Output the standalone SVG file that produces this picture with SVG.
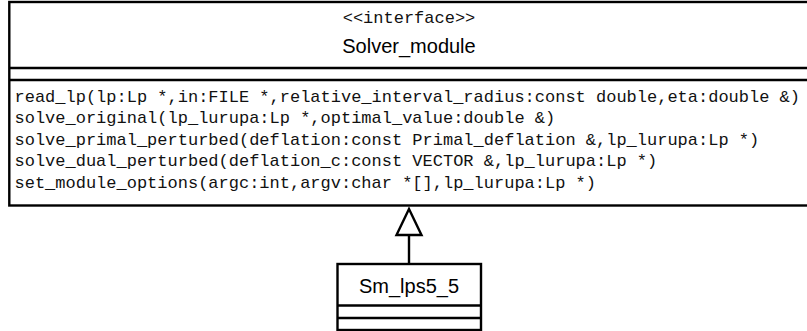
<svg xmlns="http://www.w3.org/2000/svg" width="807" height="331" viewBox="0 0 807 331">
<style>
.box{fill:#fff;stroke:#000;stroke-width:2.4}
.ln{stroke:#000;stroke-width:2.4;fill:none}
.mono{font-family:"Liberation Mono","Courier New",monospace;fill:#111;font-size:17px}
.sans{font-family:"Liberation Sans",Arial,sans-serif;fill:#000;font-size:20px}
</style>
<rect width="807" height="331" fill="#fff"/>
<g id="connectors">
<line class="ln" x1="409" y1="235" x2="409" y2="264"/>
<polygon points="409,209 396.5,235 421.5,235" fill="#fff" stroke="#000" stroke-width="2.4"/>
</g>
<g id="Solver_module">
<rect class="box" x="9.3" y="2" width="801" height="203.5"/>
<line class="ln" x1="9.3" y1="68" x2="810" y2="68"/>
<line class="ln" x1="9.3" y1="80" x2="810" y2="80"/>
<text class="mono" x="409" y="22.5" text-anchor="middle">&lt;&lt;interface&gt;&gt;</text>
<text class="sans" x="409" y="53" text-anchor="middle">Solver_module</text>
<text class="mono" x="14.5" y="101.5">read_lp(lp:Lp *,in:FILE *,relative_interval_radius:const double,eta:double &amp;)</text>
<text class="mono" x="14.5" y="123">solve_original(lp_lurupa:Lp *,optimal_value:double &amp;)</text>
<text class="mono" x="14.5" y="144.7">solve_primal_perturbed(deflation:const Primal_deflation &amp;,lp_lurupa:Lp *)</text>
<text class="mono" x="14.5" y="166.4">solve_dual_perturbed(deflation_c:const VECTOR &amp;,lp_lurupa:Lp *)</text>
<text class="mono" x="14.5" y="188">set_module_options(argc:int,argv:char *[],lp_lurupa:Lp *)</text>
</g>
<g id="Sm_lps5_5">
<rect class="box" x="337.5" y="264" width="143.5" height="66"/>
<line class="ln" x1="337.5" y1="305.5" x2="481" y2="305.5"/>
<line class="ln" x1="337.5" y1="318" x2="481" y2="318"/>
<text class="sans" x="409" y="293" text-anchor="middle">Sm_lps5_5</text>
</g>
</svg>
